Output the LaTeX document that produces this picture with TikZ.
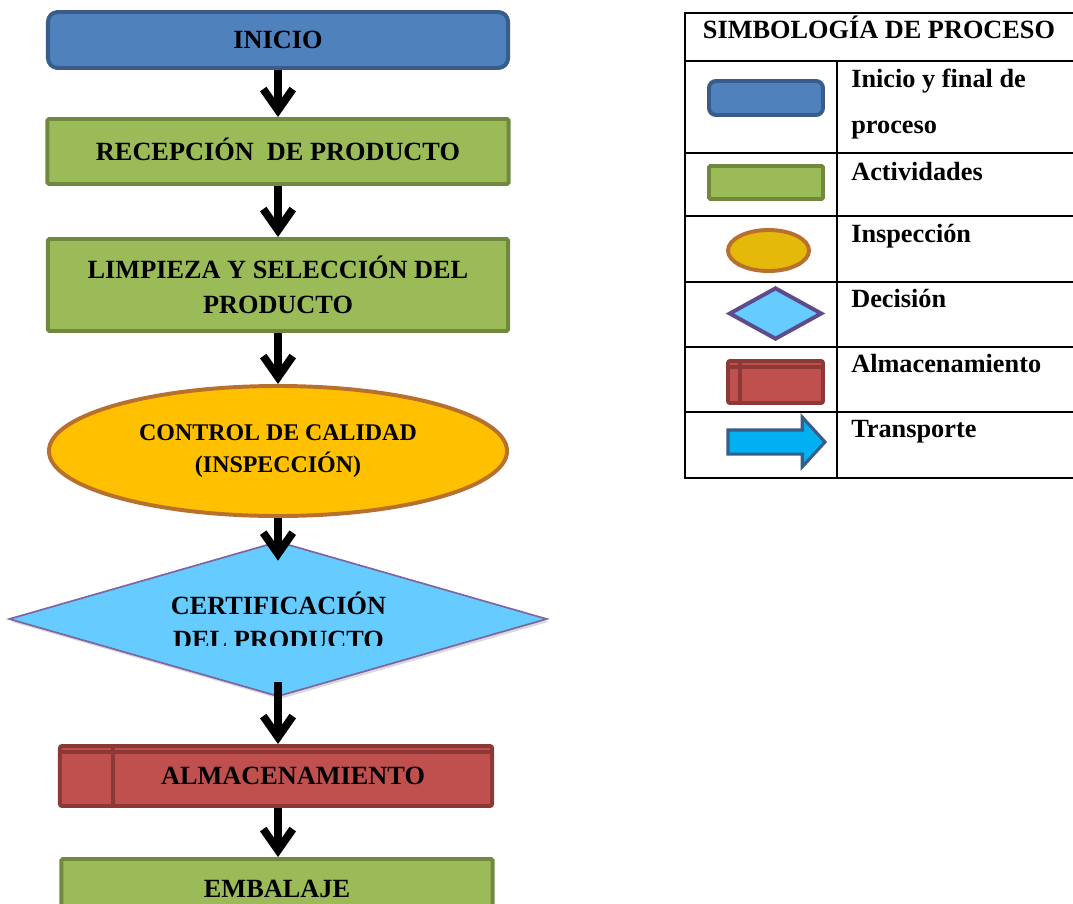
\documentclass[tikz,border=0pt]{standalone}
\usepackage{fontspec}
\setmainfont{Liberation Serif}
\usetikzlibrary{shapes.geometric,shapes.arrows,arrows.meta,shadows}

\definecolor{startfill}{HTML}{4F81BD}
\definecolor{startline}{HTML}{385D8A}
\definecolor{actfill}{HTML}{9BBB59}
\definecolor{actline}{HTML}{71893F}
\definecolor{inspfill}{HTML}{FFC000}
\definecolor{inspfillb}{HTML}{E5B90A}
\definecolor{inspline}{HTML}{B8702F}
\definecolor{decfill}{HTML}{66CCFF}
\definecolor{decline}{HTML}{8064A2}
\definecolor{declineb}{HTML}{5F4A8B}
\definecolor{storefill}{HTML}{C0504D}
\definecolor{storeline}{HTML}{8C3836}
\definecolor{movefill}{HTML}{00B0F0}

\tikzset{
  shapebase/.style={draw, line width=2.8pt, inner sep=0pt, align=center,
    font=\bfseries\fontsize{18.7}{24.5}\selectfont},
  oneline/.style={text height=12.4pt, text depth=0pt},
  startbox/.style={shapebase, rectangle, rounded corners=7pt, fill=startfill, draw=startline},
  actbox/.style={shapebase, rectangle, rounded corners=1pt, fill=actfill, draw=actline},
  inspbox/.style={shapebase, ellipse, fill=inspfill, draw=inspline,
    font=\bfseries\fontsize{17}{22.7}\selectfont},
  decbox/.style={shapebase, diamond, fill=decfill, draw=decline, line width=1.2pt},
  storebox/.style={shapebase, rectangle, rounded corners=1.5pt, fill=storefill, draw=storeline,
    path picture={
      \draw[storeline, line width=2.8pt] ([xshift=#1]path picture bounding box.north west)
        -- ([xshift=#1]path picture bounding box.south west);
      \draw[storeline, line width=2.8pt] ([yshift=-0.15cm]path picture bounding box.north west)
        -- ([yshift=-0.15cm]path picture bounding box.north east);
    }},
  movebox/.style={single arrow, draw=startline, fill=movefill, line width=2.2pt,
    inner xsep=0pt, inner ysep=0.2625cm,
    single arrow head extend=0.32cm, single arrow tip angle=95},
  flow/.style={line width=5.6pt, -{Straight Barb[length=15pt, width=21pt]}},
  legtext/.style={anchor=base west, inner sep=0pt, align=left,
    font=\bfseries\fontsize{18.7}{32.6}\selectfont},
  gridline/.style={line width=1.1pt}
}

\begin{document}
\begin{tikzpicture}[x=0.025cm, y=-0.025cm]
  \clip (0,0) rectangle (1073,903);

  % flow chart
  \node[startbox, oneline, minimum width=11.5cm, minimum height=1.4cm] (inicio) at (278,40) {INICIO};
  \node[actbox, oneline, minimum width=11.525cm, minimum height=1.625cm] (recep) at (278,151.5) {RECEPCIÓN\ \ DE PRODUCTO};
  \node[actbox, minimum width=11.5cm, minimum height=2.3cm] (limp) at (278,285) {LIMPIEZA Y SELECCIÓN DEL\\PRODUCTO};
  \node[inspbox, minimum width=11.45cm, minimum height=3.25cm] (control) at (278,451) {CONTROL DE CALIDAD\\(INSPECCIÓN)};
  \node[decbox, drop shadow={shadow xshift=1.5pt, shadow yshift=-2pt, opacity=0.3},
    minimum width=13.45cm, minimum height=3.875cm] (cert) at (278,619) {};
  \begin{scope}
    \clip (150,580) rectangle (410,645.5);
    \node[align=center, inner sep=0pt, font=\bfseries\fontsize{18.7}{24.5}\selectfont]
      (certtext) at (278.5,620.5) {CERTIFICACIÓN\\DEL PRODUCTO};
  \end{scope}
  \node[storebox=1.325cm, oneline, minimum width=10.8cm, minimum height=1.5cm] (almacen) at (276,776) {\rule{0.85cm}{0pt}ALMACENAMIENTO};
  \node[actbox, oneline, minimum width=10.775cm, minimum height=1.5cm] (embal) at (277,889) {EMBALAJE};

  \draw[flow] (inicio.south) -- (recep.north);
  \draw[flow] (recep.south) -- (limp.north);
  \draw[flow] (limp.south) -- (control.north);
  \draw[flow, shorten >=-0.5cm] (control.south) -- (cert.north);
  \draw[flow, shorten <=-0.375cm] (cert.south) -- (cert.south |- almacen.north);
  \draw[flow] (almacen.south -| cert.south) -- (cert.south |- embal.north);

  % legend
  \draw[gridline] (685,13) rectangle (1085,478);
  \foreach \y in {61,153,216,282,347,412}
    \draw[gridline] (685,\y) -- (1085,\y);
  \draw[gridline] (837,61) -- (837,478);
  \node[anchor=base, inner sep=0pt, font=\bfseries\fontsize{18.7}{24.5}\selectfont]
    (legtitle) at (879,38) {SIMBOLOGÍA DE PROCESO};

  \node[startbox, rounded corners=5pt, minimum width=2.85cm, minimum height=0.85cm] (lgstart) at (766,98) {};
  \node[actbox, minimum width=2.85cm, minimum height=0.825cm] (lgact) at (766,182.5) {};
  \node[inspbox, fill=inspfillb, minimum width=2.025cm, minimum height=1.025cm] (lginsp) at (768.5,250.5) {};
  \node[decbox, draw=declineb, line width=2.8pt, minimum width=2.325cm, minimum height=1.3cm] (lgdec) at (775.5,313.5) {};
  \node[storebox=0.3cm, minimum width=2.375cm, minimum height=1.05cm] (lgstore) at (775.5,382) {};
  \node[movebox, minimum height=2.425cm, minimum width=1.175cm] (lgmove) at (771,442) {};

  \node[legtext] (tstart) at (851,133) {Inicio y final de\\proceso};
  \node[legtext] (tact) at (851,180) {Actividades};
  \node[legtext] (tinsp) at (851,242) {Inspección};
  \node[legtext] (tdec) at (851,307) {Decisión};
  \node[legtext] (tstore) at (851,372) {Almacenamiento};
  \node[legtext] (tmove) at (851,437) {Transporte};
\end{tikzpicture}
\end{document}
